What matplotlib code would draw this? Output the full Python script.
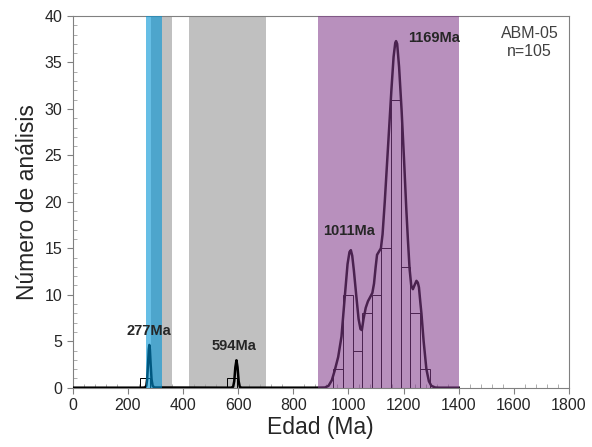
import matplotlib
matplotlib.use('Agg')
import matplotlib.pyplot as plt
from matplotlib.ticker import MultipleLocator

plt.rcParams['font.family'] = ['Liberation Sans', 'DejaVu Sans']

# Histogram: left edges of the 35 Ma bins and their counts
bin_width = 35
bin_left = [245, 560, 945, 980, 1015, 1050, 1085, 1120, 1155, 1190, 1225, 1260]
counts = [1, 1, 2, 10, 4, 8, 10, 15, 31, 13, 8, 2]

# Probability density curve (age in Ma, height)
curve_age = [0, 250, 262, 267, 270, 273, 276, 278, 280, 283, 286, 290, 296,
             575, 582, 586, 590, 594, 598, 602, 606, 612,
             880, 915, 928, 940, 950, 963, 975, 987, 997, 1004, 1009, 1014,
             1020, 1029, 1037, 1044, 1049, 1055, 1063, 1071, 1080, 1087, 1093,
             1099, 1104, 1110, 1118, 1124, 1132, 1140, 1148, 1156, 1164, 1170,
             1173, 1177, 1184, 1193, 1202, 1210, 1216, 1222, 1228, 1234, 1241,
             1247, 1252, 1256, 1261, 1265, 1273, 1283, 1292, 1301, 1315, 1330,
             1400]
curve_val = [0, 0, 0.02, 0.2, 0.9, 2.4, 4.1, 4.6, 4.1, 2.4, 0.9, 0.2, 0.02,
             0, 0.1, 0.7, 2.2, 2.95, 2.2, 0.7, 0.1, 0,
             0, 0.02, 0.2, 0.8, 1.8, 3.3, 5.5, 9.8, 13.3, 14.6, 14.8, 14.2,
             12.6, 9.8, 7.4, 6.3, 6.2, 7.4, 8.6, 9.3, 9.8, 10.2, 11.2,
             13.0, 14.3, 14.6, 15.0, 16.5, 20.0, 24.0, 28.0, 32.0, 35.6, 37.1,
             37.3, 37.0, 34.5, 29.9, 24.5, 19.3, 15.9, 12.8, 11.0, 10.6, 11.1,
             11.5, 11.3, 10.8, 9.2, 8.0, 5.0, 2.0, 0.7, 0.2, 0.02, 0,
             0]

# Shaded age intervals
gray_bands = [(283, 360), (423, 703)]
blue_band = (265, 325)
purple_band = (889, 1400)

peak_labels = ['277Ma', '594Ma', '1011Ma', '1169Ma']
peak_pos = [(276, 6.1), (586, 4.5), (1003, 16.9), (1312, 37.6)]

fig = plt.figure(figsize=(5.92, 4.47), dpi=100)
ax = fig.add_axes([0.1228, 0.1327, 0.8382, 0.8315])

for start, end in gray_bands:
    ax.axvspan(start, end, color='#c0c0c0', lw=0, zorder=0)

ax.bar(bin_left, counts, width=bin_width, align='edge', fill=False,
       edgecolor='black', lw=0.7, zorder=2)
ax.plot(curve_age, curve_val, color='black', lw=1.8, zorder=3)

# coloured bands are laid over the curve, semi-transparent
ax.axvspan(*blue_band, color='#0093d5', alpha=0.6, lw=0, zorder=4)
ax.axvspan(*purple_band, color='#833d8c', alpha=0.57, lw=0, zorder=4)

for label, (x, y) in zip(peak_labels, peak_pos):
    ax.text(x, y, label, ha='center', va='center', fontsize=10.5,
            fontweight='bold', color='#262626', zorder=5)

ax.text(1658, 37.1, 'ABM-05\nn=105', ha='center', va='center', fontsize=11.5,
        color='#404040', linespacing=1.25, zorder=5)

ax.set_xlim(0, 1800)
ax.set_ylim(0, 40)
ax.xaxis.set_major_locator(MultipleLocator(200))
ax.xaxis.set_minor_locator(MultipleLocator(40))
ax.yaxis.set_major_locator(MultipleLocator(5))
ax.yaxis.set_minor_locator(MultipleLocator(1))
ax.tick_params(which='major', direction='out', length=4, width=0.8,
               color='#808080', labelsize=11.5, labelcolor='#262626')
ax.tick_params(which='minor', direction='in', length=3, width=0.6,
               color='#a0a0a0')
for side in ['left', 'right', 'top', 'bottom']:
    ax.spines[side].set_color('#808080')
    ax.spines[side].set_linewidth(0.8)

ax.set_xlabel('Edad (Ma)', fontsize=16.5, color='#262626', labelpad=2)
ax.set_ylabel('Número de análisis', fontsize=16.5, color='#262626', labelpad=4)

fig.savefig('out.png', dpi=100)
